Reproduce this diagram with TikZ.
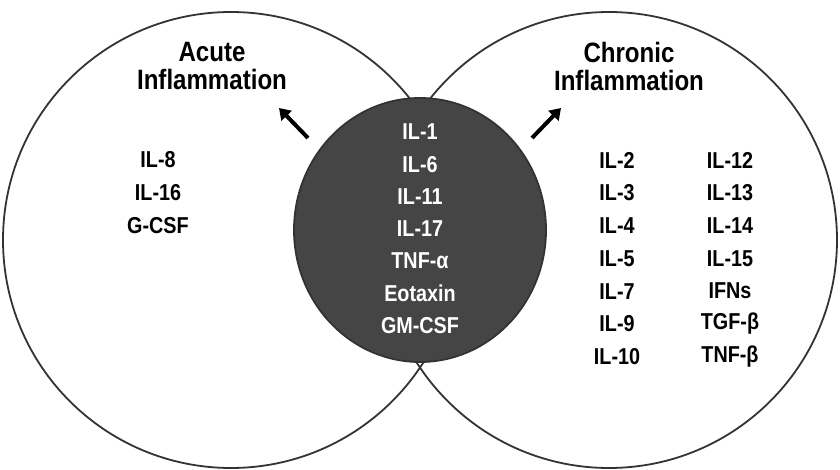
\documentclass[tikz,border=0pt]{standalone}
\usepackage{fontspec}
\setmainfont{Liberation Sans}[FakeStretch=0.86]
\usetikzlibrary{arrows.meta,shapes.geometric}
\begin{document}
\begin{tikzpicture}[x=1pt,y=-1pt,
  ring/.style={draw=black!80,line width=1.8pt},
  title/.style={font=\fontsize{28}{32}\selectfont\bfseries,align=center},
  item/.style={font=\fontsize{23}{26}\selectfont\bfseries},
  wit/.style={item,text=white},
  pointer/.style={line width=4pt,-{Triangle[length=11pt,width=14pt]}}]
\useasboundingbox (0,0) rectangle (840,470);
\fill[white] (0,0) rectangle (840,470);
\node[ring,circle,minimum size=456pt,inner sep=0] (L) at (231,240) {};
\node[ring,circle,minimum size=456pt,inner sep=0] (R) at (609,240) {};
\node[ring,ellipse,fill=black!73,minimum width=252pt,minimum height=264pt,inner sep=0] (M) at (420,230) {};
\node[title] (tl) at (212,66) {Acute\\[-4pt]Inflammation};
\node[title] (tr) at (629,66) {Chronic\\[-4pt]Inflammation};
\coordinate (la1) at (308,138); \coordinate (la2) at (279,108);
\coordinate (ra1) at (532,138); \coordinate (ra2) at (561,108);
\draw[pointer] (la1) -- (la2);
\draw[pointer] (ra1) -- (ra2);
\foreach \t [count=\i] in {IL-1,IL-6,IL-11,IL-17,TNF-α,Eotaxin,GM-CSF}
  \node[wit] (m\i) at (420,{132+32.3*(\i-1)}) {\t};
\foreach \t [count=\i] in {IL-8,IL-16,G-CSF}
  \node[item] (a\i) at (158,{160+32.8*(\i-1)}) {\t};
\foreach \t [count=\i] in {IL-2,IL-3,IL-4,IL-5,IL-7,IL-9,IL-10}
  \node[item] (c\i) at (617,{160+32.8*(\i-1)}) {\t};
\foreach \t [count=\i] in {IL-12,IL-13,IL-14,IL-15,IFNs,TGF-β,TNF-β}
  \node[item] (d\i) at (730,{160+32.8*(\i-1)}) {\t};
\end{tikzpicture}
\end{document}
